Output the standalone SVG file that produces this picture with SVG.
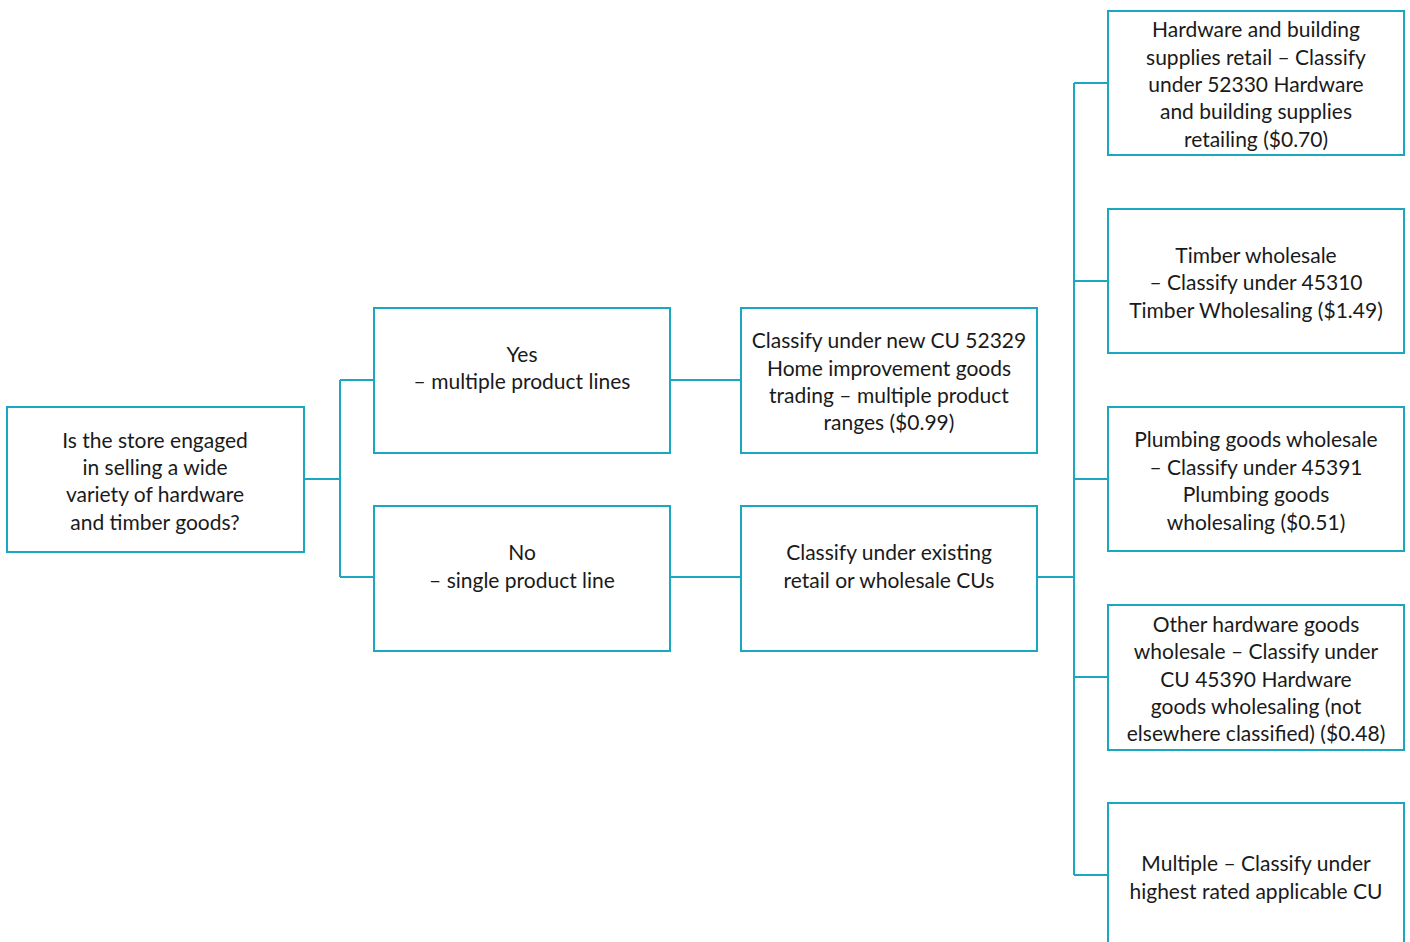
<svg xmlns="http://www.w3.org/2000/svg" width="1410" height="942" viewBox="0 0 1410 942">
<style>
.box{fill:#fff;stroke:#1aa7c0;stroke-width:2}
.ln{fill:none;stroke:#1aa7c0;stroke-width:2}
text{font-family:Lato,"Open Sans",sans-serif;font-size:21px;fill:#1a1a1a;text-anchor:middle}
</style>
<rect width="1410" height="942" fill="#fff"/>
<g id="connectors">
<path class="ln" d="M304 479H340M340 380V577M340 380H374M340 577H374"/>
<path class="ln" d="M670 380H741M670 577H741"/>
<path class="ln" d="M1037 577H1074M1074 83V875M1074 83H1108M1074 281H1108M1074 479H1108M1074 677H1108M1074 875H1108"/>
</g>
<g id="q"><rect class="box" x="7" y="407" width="297" height="145"/>
<text x="155" y="448">Is the store engaged</text><text x="155" y="475">in selling a wide</text><text x="155" y="502">variety of hardware</text><text x="155" y="530">and timber goods?</text></g>
<g id="yes"><rect class="box" x="374" y="308" width="296" height="145"/>
<text x="522" y="362">Yes</text><text x="522" y="389">– multiple product lines</text></g>
<g id="no"><rect class="box" x="374" y="506" width="296" height="145"/>
<text x="522" y="560">No</text><text x="522" y="588">– single product line</text></g>
<g id="newcu"><rect class="box" x="741" y="308" width="296" height="145"/>
<text x="889" y="348">Classify under new CU 52329</text><text x="889" y="376">Home improvement goods</text><text x="889" y="403">trading – multiple product</text><text x="889" y="430">ranges ($0.99)</text></g>
<g id="existing"><rect class="box" x="741" y="506" width="296" height="145"/>
<text x="889" y="560">Classify under existing</text><text x="889" y="588">retail or wholesale CUs</text></g>
<g id="r1"><rect class="box" x="1108" y="11" width="296" height="144"/>
<text x="1256" y="37">Hardware and building</text><text x="1256" y="65">supplies retail – Classify</text><text x="1256" y="92">under 52330 Hardware</text><text x="1256" y="119">and building supplies</text><text x="1256" y="147">retailing ($0.70)</text></g>
<g id="r2"><rect class="box" x="1108" y="209" width="296" height="144"/>
<text x="1256" y="263">Timber wholesale</text><text x="1256" y="290">– Classify under 45310</text><text x="1256" y="318">Timber Wholesaling ($1.49)</text></g>
<g id="r3"><rect class="box" x="1108" y="407" width="296" height="144"/>
<text x="1256" y="447">Plumbing goods wholesale</text><text x="1256" y="475">– Classify under 45391</text><text x="1256" y="502">Plumbing goods</text><text x="1256" y="530">wholesaling ($0.51)</text></g>
<g id="r4"><rect class="box" x="1108" y="605" width="296" height="145"/>
<text x="1256" y="632">Other hardware goods</text><text x="1256" y="659">wholesale – Classify under</text><text x="1256" y="687">CU 45390 Hardware</text><text x="1256" y="714">goods wholesaling (not</text><text x="1256" y="741">elsewhere classified) ($0.48)</text></g>
<g id="r5"><rect class="box" x="1108" y="803" width="296" height="145"/>
<text x="1256" y="871">Multiple – Classify under</text><text x="1256" y="899">highest rated applicable CU</text></g>
</svg>
